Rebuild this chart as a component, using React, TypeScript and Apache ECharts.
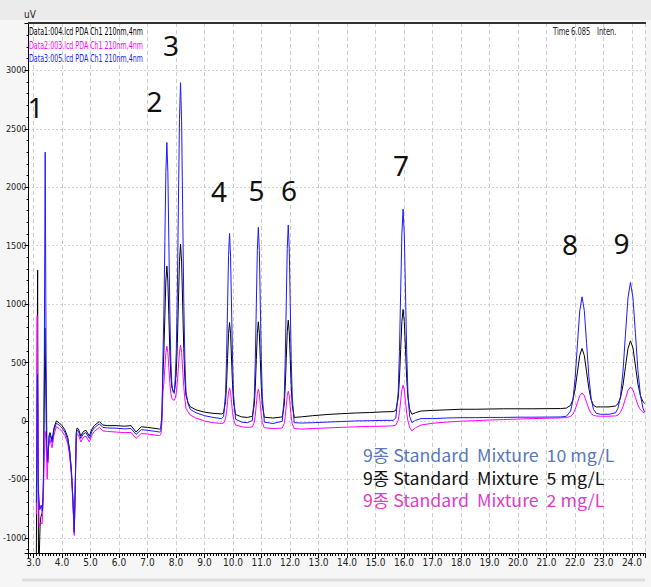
import React, { useEffect, useRef } from "react";
import * as echarts from "echarts";

type Pt = [number, number];

const traceNames = [
  "Data1:004.lcd PDA Ch1 210nm,4nm",
  "Data2:003.lcd PDA Ch1 210nm,4nm",
  "Data3:005.lcd PDA Ch1 210nm,4nm",
];
const traceColors = ["#000000", "#ff00ff", "#1a1aff"];
const legendTexts = [
  "9종 Standard  Mixture  10 mg/L",
  "9종 Standard  Mixture  5 mg/L",
  "9종 Standard  Mixture  2 mg/L",
];
const legendColors = ["#5878ba", "#111111", "#e03cc8"];
const peakNumbers = ["1", "2", "3", "4", "5", "6", "7", "8", "9"];
const headerWords = ["Time", "6.085", "Inten."];
const yUnit = "uV";

// Data1 : 5 mg/L (black)
const black5: Pt[] = [
  [3.10, -1130], [3.125, 400], [3.145, 1290], [3.16, -400], [3.175, -1130], [3.205, -1130],
  [3.23, -900], [3.26, -820], [3.30, -790], [3.34, -650], [3.37, 0], [3.40, 795], [3.43, 300],
  [3.46, -250], [3.50, -360], [3.55, -120], [3.58, -100], [3.65, -165], [3.72, -60], [3.80, 0],
  [3.90, -15], [4.00, -40], [4.10, -75], [4.20, -140], [4.27, -250], [4.33, -420], [4.38, -650],
  [4.43, -960], [4.46, -600], [4.50, -100], [4.53, -60], [4.58, -70], [4.66, -130], [4.75, -90],
  [4.84, -80], [4.96, -130], [5.05, -70], [5.13, -40], [5.31, -5], [5.43, -35], [5.60, -40],
  [5.90, -40], [6.20, -45], [6.42, -40], [6.60, -95], [6.78, -50], [7.00, -55], [7.30, -65],
  [7.42, -70], [7.47, -60], [7.51, 80], [7.54, 380], [7.575, 590], [7.61, 900], [7.645, 1197],
  [7.68, 1325], [7.715, 1197], [7.75, 900], [7.785, 593], [7.82, 386], [7.855, 290], [7.90, 255],
  [7.94, 250], [7.97, 300], [8.01, 420], [8.0475, 660], [8.085, 1017], [8.1225, 1364], [8.16, 1513],
  [8.1975, 1360], [8.235, 1000], [8.2725, 620], [8.31, 370], [8.35, 220], [8.42, 160], [8.50, 122],
  [8.70, 95], [9.00, 75], [9.30, 65], [9.60, 60], [9.67, 69], [9.74, 166], [9.775, 314], [9.81, 535],
  [9.845, 750], [9.88, 842], [9.915, 750], [9.95, 530], [9.985, 310], [10.02, 160], [10.09, 55],
  [10.30, 35], [10.50, 30], [10.68, 39], [10.75, 140], [10.785, 296], [10.82, 527], [10.855, 751],
  [10.89, 848], [10.925, 751], [10.96, 525], [10.995, 295], [11.03, 138], [11.10, 32], [11.40, 25],
  [11.73, 34], [11.80, 138], [11.835, 297], [11.87, 533], [11.905, 763], [11.94, 862], [11.975, 763],
  [12.01, 533], [12.045, 297], [12.08, 138], [12.15, 30], [12.40, 35], [12.80, 45], [13.30, 55],
  [13.80, 62], [14.30, 68], [14.80, 72], [15.30, 78], [15.62, 80], [15.715, 90], [15.80, 198],
  [15.8425, 364], [15.885, 610], [15.9275, 851], [15.97, 954], [16.0125, 851], [16.055, 610],
  [16.0975, 364], [16.14, 198], [16.20, 100], [16.28, 57], [16.40, 70], [16.60, 85], [17.00, 90],
  [17.50, 95], [18.00, 100], [18.50, 100], [19.00, 102], [19.50, 104], [20.00, 104], [20.50, 104],
  [21.00, 105], [21.50, 106], [21.70, 110], [21.85, 134], [21.93, 181], [22.01, 277], [22.09, 420],
  [22.17, 560], [22.25, 620], [22.33, 560], [22.41, 420], [22.49, 277], [22.57, 181], [22.65, 134],
  [22.75, 120], [22.90, 120], [23.20, 120], [23.425, 128], [23.5125, 147], [23.60, 198],
  [23.6875, 305], [23.775, 464], [23.8625, 619], [23.95, 685], [24.0375, 625], [24.125, 470],
  [24.2125, 315], [24.30, 215], [24.3875, 165], [24.45, 150],
];

// Data2 : 2 mg/L (magenta)
const magenta2: Pt[] = [
  [3.10, -800], [3.13, 900], [3.16, -300], [3.20, -900], [3.25, -870], [3.30, -880], [3.34, -700],
  [3.38, -300], [3.41, -90], [3.44, -160], [3.48, -500], [3.52, -220], [3.58, -160], [3.65, -230],
  [3.72, -120], [3.80, -50], [3.90, -65], [4.00, -90], [4.10, -125], [4.20, -190], [4.27, -300],
  [4.33, -470], [4.38, -690], [4.43, -980], [4.46, -640], [4.50, -150], [4.53, -110], [4.58, -120],
  [4.66, -180], [4.75, -140], [4.84, -130], [4.96, -180], [5.05, -120], [5.13, -90], [5.31, -55],
  [5.43, -85], [5.60, -90], [5.90, -95], [6.20, -100], [6.42, -98], [6.60, -150], [6.78, -108],
  [7.00, -112], [7.30, -122], [7.42, -125], [7.47, -115], [7.51, 0], [7.54, 233], [7.575, 323],
  [7.61, 455], [7.645, 585], [7.68, 640], [7.715, 585], [7.75, 455], [7.785, 323], [7.82, 233],
  [7.855, 195], [7.90, 180], [7.94, 177], [7.97, 195], [8.01, 239], [8.0475, 329], [8.085, 462],
  [8.1225, 592], [8.16, 648], [8.1975, 585], [8.235, 440], [8.2725, 295], [8.31, 190], [8.35, 110],
  [8.42, 80], [8.50, 50], [8.70, 25], [9.00, 0], [9.30, -15], [9.60, -22], [9.67, -19], [9.74, 19],
  [9.775, 77], [9.81, 163], [9.845, 247], [9.88, 283], [9.915, 245], [9.95, 160], [9.985, 73],
  [10.02, 15], [10.09, -35], [10.30, -50], [10.50, -55], [10.68, -51], [10.75, -11], [10.785, 51],
  [10.82, 143], [10.855, 233], [10.89, 271], [10.925, 233], [10.96, 140], [10.995, 48], [11.03, -14],
  [11.10, -58], [11.40, -65], [11.73, -61], [11.80, -22], [11.835, 39], [11.87, 129], [11.905, 216],
  [11.94, 254], [11.975, 216], [12.01, 128], [12.045, 37], [12.08, -24], [12.15, -65], [12.40, -70],
  [12.80, -65], [13.30, -60], [13.80, -55], [14.30, -50], [14.80, -47], [15.30, -45], [15.62, -42],
  [15.715, -36], [15.80, 7], [15.8425, 72], [15.885, 170], [15.9275, 265], [15.97, 306],
  [16.0125, 265], [16.055, 165], [16.0975, 65], [16.14, 0], [16.20, -55], [16.28, -85], [16.40, -60],
  [16.60, -35], [17.00, -20], [17.50, -10], [18.00, -2], [18.50, 2], [19.00, 8], [19.50, 12],
  [20.00, 16], [20.50, 20], [21.00, 23], [21.50, 26], [21.70, 29], [21.85, 39], [21.93, 58],
  [22.01, 98], [22.09, 157], [22.17, 215], [22.25, 240], [22.33, 216], [22.41, 160], [22.49, 102],
  [22.57, 64], [22.65, 48], [22.75, 42], [22.90, 40], [23.20, 40], [23.425, 43], [23.5125, 51],
  [23.60, 74], [23.6875, 122], [23.775, 192], [23.8625, 261], [23.95, 291], [24.0375, 265],
  [24.125, 200], [24.2125, 135], [24.30, 95], [24.3875, 75], [24.45, 68],
];

// Data3 : 10 mg/L (blue)
const blue10: Pt[] = [
  [3.10, -700], [3.14, 400], [3.17, -600], [3.22, -760], [3.27, -720], [3.31, -770], [3.35, -500],
  [3.38, 600], [3.41, 2300], [3.44, 600], [3.47, -200], [3.50, -340], [3.55, -130], [3.58, -115],
  [3.65, -185], [3.72, -80], [3.80, -20], [3.90, -35], [4.00, -60], [4.10, -95], [4.20, -160],
  [4.27, -270], [4.33, -440], [4.38, -670], [4.43, -950], [4.46, -620], [4.50, -120], [4.53, -80],
  [4.58, -90], [4.66, -150], [4.75, -110], [4.84, -100], [4.96, -150], [5.05, -90], [5.13, -60],
  [5.31, -25], [5.43, -55], [5.60, -60], [5.90, -62], [6.20, -68], [6.42, -65], [6.60, -115],
  [6.78, -75], [7.00, -80], [7.30, -90], [7.42, -95], [7.47, -85], [7.51, 60], [7.54, 512],
  [7.575, 923], [7.61, 1533], [7.645, 2128], [7.68, 2383], [7.715, 2128], [7.75, 1533], [7.785, 923],
  [7.82, 512], [7.855, 315], [7.90, 245], [7.94, 235], [7.97, 347], [8.01, 590], [8.0475, 1096],
  [8.085, 1847], [8.1225, 2580], [8.16, 2894], [8.1975, 2560], [8.235, 1800], [8.2725, 1050],
  [8.31, 540], [8.35, 250], [8.42, 150], [8.50, 100], [8.70, 70], [9.00, 45], [9.30, 30], [9.60, 20],
  [9.67, 37], [9.74, 234], [9.775, 535], [9.81, 981], [9.845, 1417], [9.88, 1604], [9.915, 1410],
  [9.95, 975], [9.985, 525], [10.02, 225], [10.09, 15], [10.30, -10], [10.50, -15], [10.68, 3],
  [10.75, 211], [10.785, 528], [10.82, 999], [10.855, 1459], [10.89, 1656], [10.925, 1459],
  [10.96, 995], [10.995, 525], [11.03, 208], [11.10, -10], [11.40, -22], [11.73, -3], [11.80, 207],
  [11.835, 530], [11.87, 1009], [11.905, 1476], [11.94, 1676], [11.975, 1476], [12.01, 1005],
  [12.045, 525], [12.08, 205], [12.15, -15], [12.40, -18], [12.80, -15], [13.30, -10], [13.80, -5],
  [14.30, 0], [14.80, 2], [15.30, 5], [15.62, 5], [15.715, 25], [15.80, 249], [15.8425, 592],
  [15.885, 1102], [15.9275, 1599], [15.97, 1812], [16.0125, 1594], [16.055, 1097], [16.0975, 585],
  [16.14, 240], [16.20, 40], [16.28, -15], [16.40, 5], [16.60, 20], [17.00, 20], [17.50, 25],
  [18.00, 28], [18.50, 28], [19.00, 30], [19.50, 30], [20.00, 32], [20.50, 32], [21.00, 33],
  [21.50, 34], [21.70, 40], [21.85, 85], [21.93, 178], [22.01, 372], [22.09, 660], [22.17, 941],
  [22.25, 1062], [22.33, 945], [22.41, 665], [22.49, 380], [22.57, 190], [22.65, 100], [22.75, 65],
  [22.90, 57], [23.20, 57], [23.425, 70], [23.5125, 108], [23.60, 210], [23.6875, 424], [23.775, 742],
  [23.8625, 1052], [23.95, 1185], [24.0375, 1055], [24.125, 745], [24.2125, 430], [24.30, 220],
  [24.3875, 110], [24.45, 75],
];

const traces: Pt[][] = [black5, magenta2, blue10];

export default function App() {
  const ref = useRef<HTMLDivElement>(null);

  useEffect(() => {
    if (!ref.current) return;
    const chart = echarts.init(ref.current, null, { renderer: "svg" });
    const narrow = "'Liberation Sans Narrow', 'Arial Narrow', 'DejaVu Sans Condensed', sans-serif";

    const peakPos: Pt[] = [
      [35.5, 107], [154.5, 101], [171, 45], [219, 191], [256.5, 190],
      [289, 190], [401, 165], [570, 244], [621.5, 242.5],
    ];
    const headerX = [553, 571, 597];
    const traceLabelY = [32, 45.5, 59];
    const legendY = [455, 477.5, 500];

    const graphic: any[] = [
      { type: "rect", shape: { x: 0, y: 0, width: 651, height: 20 }, style: { fill: "#ebebeb" }, silent: true },
      { type: "line", shape: { x1: 28, y1: 23, x2: 646, y2: 23 }, style: { stroke: "#333333", lineWidth: 2 }, z: 20 },
      { type: "line", shape: { x1: 22, y1: 580, x2: 645, y2: 580 }, style: { stroke: "#dddddd", lineWidth: 3 }, silent: true },
      {
        type: "text", x: 24, y: 14, z: 20,
        style: { text: yUnit, fontSize: 10, fontFamily: narrow, fill: "#222", align: "left", verticalAlign: "middle", textAlign: "left", textVerticalAlign: "middle" },
      },
    ];
    traceNames.forEach((t, i) => {
      graphic.push({
        type: "text", x: 29, y: traceLabelY[i], scaleX: 0.7, z: 20,
        style: { text: t, fontSize: 10, lineHeight: 11, fontFamily: narrow, fill: traceColors[i], align: "left", verticalAlign: "middle", textAlign: "left", textVerticalAlign: "middle" },
      });
    });
    headerWords.forEach((w, i) => {
      graphic.push({
        type: "text", x: headerX[i], y: 32, scaleX: 0.75, z: 20,
        style: { text: w, fontSize: 10, fontFamily: narrow, fill: "#222", align: "left", verticalAlign: "middle", textAlign: "left", textVerticalAlign: "middle" },
      });
    });
    peakNumbers.forEach((p, i) => {
      graphic.push({
        type: "text", x: peakPos[i][0], y: peakPos[i][1], z: 20,
        style: { text: p, fontSize: 28, lineHeight: 28, fontFamily: "'Noto Sans', 'Open Sans', sans-serif", fill: "#111", align: "center", verticalAlign: "middle", textAlign: "center", textVerticalAlign: "middle" },
      });
    });
    legendTexts.forEach((l, i) => {
      graphic.push({
        type: "text", x: 363, y: legendY[i], scaleX: 1.045, z: 20,
        style: { text: l, fontSize: 17, lineHeight: 19, fontFamily: "'Noto Sans CJK KR', 'Noto Sans', sans-serif", fill: legendColors[i], align: "left", verticalAlign: "middle", textAlign: "left", textVerticalAlign: "middle" },
      });
    });

    const option: any = {
      animation: false,
      grid: { left: 28, right: 6, top: 23, bottom: 34, show: true, backgroundColor: "#ffffff", borderWidth: 0 },
      xAxis: {
        type: "value", min: 2.825, max: 24.46, splitNumber: 21,
        axisLine: { show: true, onZero: false, lineStyle: { color: "#000", width: 1 } },
        axisTick: { show: true, length: 5, lineStyle: { color: "#000" } },
        minorTick: { show: true, splitNumber: 10, length: 3, lineStyle: { color: "#000" } },
        axisLabel: {
          showMinLabel: false, showMaxLabel: false, fontSize: 10, fontFamily: narrow, color: "#222", margin: 4,
          formatter: (v: number) => (Math.abs(v - Math.round(v)) < 1e-6 ? v.toFixed(1) : ""),
        },
        splitLine: { show: true, lineStyle: { type: [4, 3], color: "#cccccc", width: 1 } },
      },
      yAxis: {
        type: "value", min: -1130, max: 3405, splitNumber: 9,
        axisLine: { show: true, onZero: false, lineStyle: { color: "#000", width: 1 } },
        axisTick: { show: true, length: 4, lineStyle: { color: "#000" } },
        minorTick: { show: true, splitNumber: 5, length: 2, lineStyle: { color: "#000" } },
        axisLabel: {
          showMinLabel: false, showMaxLabel: false, fontSize: 9, fontFamily: narrow, color: "#222", margin: 2,
          formatter: (v: number) => (Math.abs(v % 500) < 1e-6 ? String(v) : ""),
        },
        splitLine: { show: true, lineStyle: { type: [1, 3], color: "#aaaaaa", width: 1 } },
      },
      series: traces.map((d, i) => ({
        type: "line", name: traceNames[i], data: d, showSymbol: false, symbol: "none",
        lineStyle: { width: 1, color: traceColors[i] }, itemStyle: { color: traceColors[i] },
        silent: true, clip: true, z: 2 + (i === 2 ? 1 : 0),
      })),
      graphic,
    };
    chart.setOption(option);
    return () => chart.dispose();
  }, []);

  return (
    <div
      ref={ref}
      style={{ position: "fixed", left: 0, top: 0, width: 651, height: 587, background: "#f6f6f6" }}
    />
  );
}
